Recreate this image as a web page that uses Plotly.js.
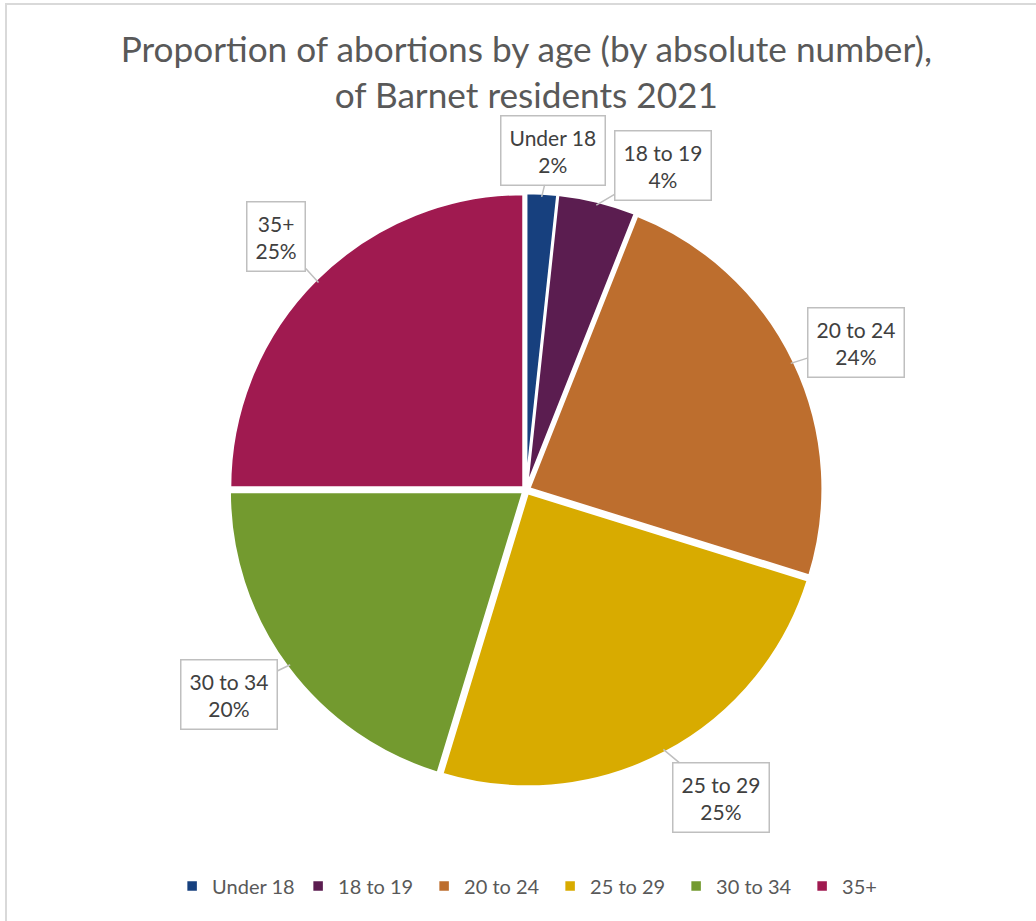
<!DOCTYPE html>
<html>
<head>
<meta charset="utf-8">
<script src="https://cdn.plot.ly/plotly-3.0.1.min.js"></script>
<style>
  html, body { margin: 0; padding: 0; background: #fff; }
  #frame { position: absolute; left: 5px; top: 3px; width: 1031px; height: 918px;
           border-left: 2px solid #d9d9d9; border-top: 2px solid #d9d9d9; box-sizing: border-box; }
  #chart { position: absolute; left: 0; top: 0; width: 1036px; height: 921px; }
</style>
</head>
<body>
<div id="frame"></div>
<div id="chart"></div>
<script>
// ---- data ----
const categories = ["Under 18", "18 to 19", "20 to 24", "25 to 29", "30 to 34", "35+"];
const shares = [1.7, 4.3, 23.8, 24.9, 20.3, 25.0];
const colors = ["#17407e", "#5b1d50", "#bd6e2e", "#d8ab00", "#739a2f", "#a01a50"];
const titleText = "Proportion of abortions by age (by absolute number),<br>of Barnet residents 2021";

// ---- layout parameters ----
const W = 1036, H = 921;
const cx = 526, cy = 490, half = 297;
const pull = 0.012;
const R = half / (1 + pull);
// per-label box placement (radius in px, angle nudge in degrees)
const boxRadius = [341, 352, 361, 364, 360, 356];
const boxNudge = [1.5, 9, 1.5, -4.5, 2, 0.5];

const total = shares.reduce((a, b) => a + b, 0);
let cum = 0;
const annotations = [];
shares.forEach((v, i) => {
  const mid = (cum + v / 2) / total * 360;
  cum += v;
  const a = mid * Math.PI / 180;
  const tipX = cx + R * Math.sin(a), tipY = cy - R * Math.cos(a);
  const b = (mid + boxNudge[i]) * Math.PI / 180;
  const bx = cx + boxRadius[i] * Math.sin(b), by = cy - boxRadius[i] * Math.cos(b);
  const pct = Math.round(v / total * 100) + "%";
  annotations.push({
    xref: "paper", yref: "paper",
    x: tipX / W, y: 1 - tipY / H,
    ax: bx - tipX, ay: by - tipY,
    axref: "pixel", ayref: "pixel",
    text: categories[i] + "<br>" + pct,
    showarrow: true, arrowhead: 0, arrowwidth: 1.5, arrowcolor: "#bfbfbf",
    standoff: 0, startstandoff: 0,
    font: { family: "Lato, 'Open Sans', sans-serif", size: 21, color: "#404040" },
    bgcolor: "#ffffff", bordercolor: "#bfbfbf", borderwidth: 1.5, borderpad: 8,
    align: "center"
  });
});

const trace = {
  type: "pie",
  labels: categories,
  values: shares,
  marker: { colors: colors, line: { color: "#ffffff", width: 2.5 } },
  sort: false,
  direction: "clockwise",
  rotation: 0,
  pull: pull,
  textinfo: "none",
  hoverinfo: "label+percent",
  domain: { x: [(cx - half) / W, (cx + half) / W], y: [1 - (cy + half) / H, 1 - (cy - half) / H] }
};

const layout = {
  width: W, height: H,
  margin: { l: 0, r: 0, t: 0, b: 0 },
  paper_bgcolor: "rgba(0,0,0,0)",
  plot_bgcolor: "rgba(0,0,0,0)",
  title: {
    text: titleText,
    x: 0.508, xanchor: "center",
    y: 1 - 62 / H, yanchor: "middle",
    font: { family: "Lato, 'Open Sans', sans-serif", size: 35.2, color: "#595959" }
  },
  showlegend: true,
  legend: {
    orientation: "h",
    x: 0.531, xanchor: "center",
    y: 1 - 886 / H, yanchor: "middle",
    entrywidth: 81, entrywidthmode: "pixels",
    font: { family: "Lato, 'Open Sans', sans-serif", size: 20, color: "#595959" },
    traceorder: "normal"
  },
  annotations: annotations
};

Plotly.newPlot("chart", [trace], layout, { displayModeBar: false, staticPlot: true });
</script>
</body>
</html>
